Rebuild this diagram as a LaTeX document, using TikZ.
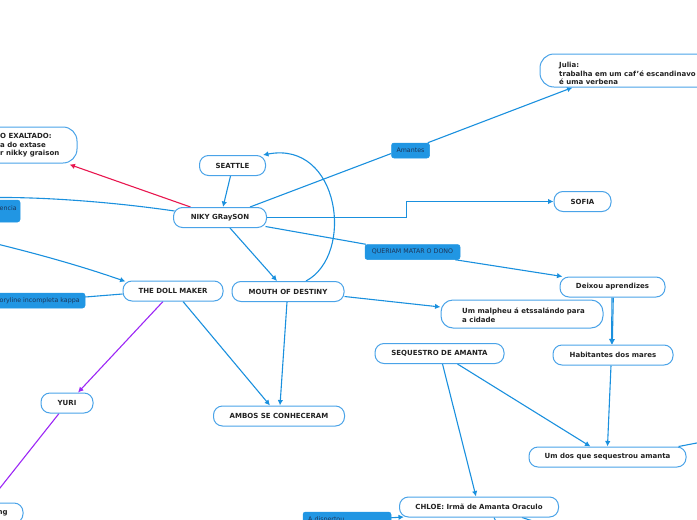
\documentclass[tikz,border=0pt]{standalone}
\usepackage{fontspec}
\setmainfont{DejaVu Sans}
\usetikzlibrary{arrows.meta,calc}
\definecolor{cnc}{HTML}{1A90DE}
\definecolor{nbc}{HTML}{4AA3E8}
\definecolor{lfc}{HTML}{2196E3}
\definecolor{ltc}{HTML}{1D3557}
\definecolor{rdc}{HTML}{E8174F}
\definecolor{puc}{HTML}{9C27F5}
\definecolor{txc}{HTML}{222222}
\pgfdeclarelayer{bg}
\pgfsetlayers{bg,main}
\tikzset{
 nd/.style={draw=nbc, fill=white, line width=1pt, rounded corners=9pt, minimum height=20pt, inner sep=0pt, font=\bfseries\fontsize{7}{8.5}\selectfont, text=txc},
 txt/.style={inner sep=0pt, align=left, font=\bfseries\fontsize{7}{8.5}\selectfont, text=txc},
 lb/.style={draw=lfc, fill=lfc, line width=0.5pt, rounded corners=2.5pt, inner sep=0pt, minimum height=15pt, font=\fontsize{6.3}{7.5}\selectfont, text=ltc},
 lbt/.style={inner sep=0pt, font=\fontsize{6.3}{7.5}\selectfont, text=ltc},
 conn/.style={draw=cnc, line width=1.1pt},
 arr/.style={-{Latex[length=5.5pt,width=5.5pt]}}
}
\begin{document}
\begin{tikzpicture}[x=1pt,y=-1pt]
\useasboundingbox (0,0) rectangle (697,520);
% main nodes
\node[nd,minimum width=93pt] (nik) at (220,217.5) {NIKY GRaySON};
\node[nd,minimum width=66pt] (sea) at (232.5,165.5) {SEATTLE};
\node[nd,minimum width=137pt,minimum height=36pt,rounded corners=14pt] (exa) at (8.5,145) {};
\node[txt,anchor=west] (exat) at (0,145.5) {O EXALTADO:\\a do extase\\r nikky graison};
\node[nd,minimum width=100pt] (doll) at (173,291) {THE DOLL MAKER};
\node[nd,minimum width=112pt] (mouth) at (288,291.5) {MOUTH OF DESTINY};
\node[nd,minimum width=131pt] (ambos) at (279,416) {AMBOS SE CONHECERAM};
\node[nd,minimum width=52pt] (yuri) at (67,403) {YURI};
\node[nd,minimum width=63pt] (ngb) at (-8.5,513) {};
\node[txt,anchor=west] (ngt) at (-2.5,513) {ng};
\node[nd,minimum width=57pt] (sofia) at (582.5,201.5) {SOFIA};
\node[nd,minimum width=172pt,minimum height=33pt,rounded corners=14pt] (julia) at (626,70.5) {};
\node[txt,anchor=west] (juliat) at (559,73.5) {Julia:\\trabalha em um caf'é escandinavo\\é uma verbena};
\node[nd,minimum width=105pt] (deix) at (612.5,287) {Deixou aprendizes};
\node[nd,minimum width=162pt,minimum height=28pt,rounded corners=12pt] (malp) at (522,314) {};
\node[txt,anchor=west] (malpt) at (462,315) {Um malpheu á etssalándo para\\a cidade};
\node[nd,minimum width=120pt] (habit) at (613,355) {Habitantes dos mares};
\node[nd,minimum width=157pt] (umdos) at (607.5,457) {Um dos que sequestrou amanta};
\node[nd,minimum width=129pt] (seq) at (439.5,353.5) {SEQUESTRO DE AMANTA};
\node[nd,minimum width=159pt] (chloe) at (479,507) {CHLOE: Irmã de Amanta Oraculo};
% labels
\node[lb,minimum width=38pt] (amantes) at (410.5,150.5) {Amantes};
\node[lb,minimum width=95pt] (queriam) at (412.5,252) {QUERIAM MATAR O DONO};
\node[lb,minimum width=60pt,minimum height=22pt] (encia) at (-10,211) {};
\node[lbt,anchor=west] (enciat) at (-0.5,208) {encia};
\node[lb,minimum width=125pt] (kappa) at (22.5,300.5) {};
\node[lbt,anchor=west] (kappat) at (-0.5,300.5) {oryline incompleta kappa};
\node[lb,minimum width=88pt,minimum height=24pt] (disp) at (347,524) {};
\node[lbt,anchor=base west] (dispt) at (308,521.5) {A dispertou};
% free ends
\coordinate (offL) at (-5,197.5);
\coordinate (offL2) at (-5,243.5);
\coordinate (offR) at (702,442);
\begin{pgfonlayer}{bg}
\draw[conn,draw=rdc,arr] ([xshift=-29.5pt]nik.north) -- ([xshift=-8pt,yshift=-1pt]exa.south east);
\draw[conn] ([xshift=1.5pt,yshift=6.5pt]nik.west) .. controls (120,203) and (50,197) .. (offL);
\draw[conn,arr] (offL2) .. controls (42,255) and (84,267) .. ([xshift=3pt,yshift=-1pt]doll.north west);
\draw[conn] ([yshift=3.5pt]kappa.east) -- ([yshift=-3pt]doll.west);
\draw[conn,arr] ([xshift=-2pt]sea.south) -- ([xshift=3pt]nik.north);
\draw[conn,arr] ([xshift=18pt]mouth.north) .. controls (355,255) and (340,140) .. ([xshift=-3pt]sea.north east);
\draw[conn,arr] ([xshift=10pt]nik.south) -- ([xshift=-11pt]mouth.north);
\draw[conn] ([xshift=30pt]nik.north) -- ([yshift=-3pt]amantes.west);
\draw[conn,arr] ([xshift=-2pt]amantes.north east) -- ([xshift=33pt]julia.south west);
\draw[conn,arr] (nik.east) -- ++(139.5,0) |- (sofia.west);
\draw[conn] ([xshift=-1.5pt,yshift=1.5pt]nik.south east) -- ([xshift=1pt]queriam.north west);
\draw[conn,arr] ([xshift=-5pt]queriam.south east) -- ([xshift=3pt]deix.north west);
\draw[conn,arr] ([yshift=-5pt]mouth.east) -- ([yshift=7pt]malp.west);
\draw[conn,arr] ([xshift=-1pt]mouth.south) -- ([xshift=1pt]ambos.north);
\draw[conn,arr] ([xshift=10pt]doll.south) -- ([xshift=-9pt]ambos.north);
\draw[conn,draw=puc,arr] ([xshift=-10pt]doll.south) -- ([xshift=11pt]yuri.north);
\draw[conn,draw=puc,arr] ([xshift=-8pt]yuri.south) -- ([xshift=-35pt]ngb.north east);
\draw[conn,arr] ([xshift=-0.5pt]deix.south) -- ([xshift=-1.5pt]habit.north);
\draw[conn,arr] ([xshift=0.8pt]deix.south) -- ([xshift=-0.7pt]habit.north);
\draw[conn,arr] ([xshift=-2pt]habit.south) -- (umdos.north);
\draw[conn,arr] ([xshift=18pt]seq.south) -- ([xshift=-17pt]umdos.north);
\draw[conn,arr] ([xshift=3pt]seq.south) -- ([xshift=-3pt]chloe.north);
\draw[conn] ([xshift=-8pt]umdos.north east) -- (offR);
\draw[conn,arr] ([yshift=-6pt]disp.north east) -- ([xshift=5pt,yshift=0.5pt]chloe.south west);
\draw[conn] ([xshift=15pt]chloe.south) -- ++(4,8);
\draw[conn] ([xshift=-37pt]chloe.south east) -- ++(14,4.5);
\end{pgfonlayer}
\end{tikzpicture}
\end{document}
